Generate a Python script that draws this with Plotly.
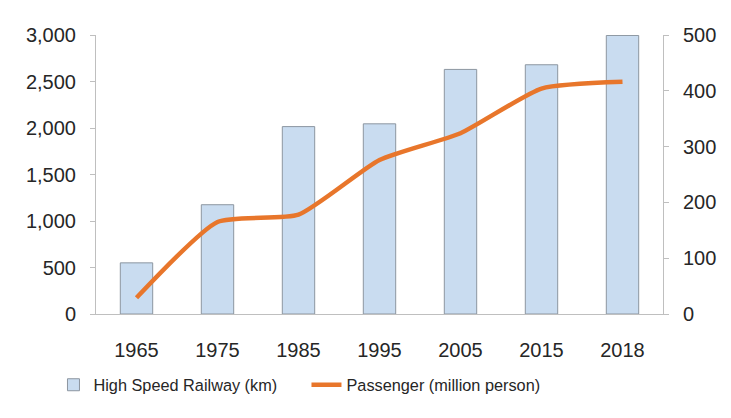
import plotly.graph_objects as go

years = ["1965", "1975", "1985", "1995", "2005", "2015", "2018"]
railway_km = [550, 1175, 2015, 2045, 2630, 2680, 2995]
passengers = [29, 165, 178, 276, 324, 404, 416]

fig = go.Figure()
fig.add_trace(go.Bar(
    x=years, y=railway_km, name="High Speed Railway (km)",
    marker=dict(color="#C9DCF0", line=dict(color="#8C96A0", width=1)),
    width=0.4, yaxis="y"))
fig.add_trace(go.Scatter(
    x=years, y=passengers, name="Passenger (million person)",
    mode="lines", line=dict(color="#E8762B", width=4.5, shape="spline", smoothing=0.55),
    yaxis="y2"))

font_color = "#262626"
fig.update_layout(
    width=731, height=418,
    margin=dict(l=96, r=68, t=35, b=104),
    paper_bgcolor="white", plot_bgcolor="white",
    font=dict(family="Liberation Sans, Arial, sans-serif", size=20, color=font_color),
    showlegend=True,
    legend=dict(orientation="h", x=-0.075, xanchor="left", y=-0.255, yanchor="middle",
                font=dict(size=16.3, color=font_color), entrywidth=208, traceorder="normal"),
    xaxis=dict(showline=True, linecolor="#BFBFBF", linewidth=1, ticks="", showgrid=False,
               tickfont=dict(size=20), ticklabelstandoff=18),
    yaxis=dict(range=[0, 3000], tickvals=[0, 500, 1000, 1500, 2000, 2500, 3000],
               tickformat=",", showline=True, linecolor="#BFBFBF", linewidth=1,
               ticks="outside", ticklen=5, tickcolor="#BFBFBF", showgrid=False,
               zeroline=False, ticklabelstandoff=10),
    yaxis2=dict(range=[0, 500], tickvals=[0, 100, 200, 300, 400, 500], overlaying="y",
                side="right", showline=True, linecolor="#BFBFBF", linewidth=1,
                ticks="outside", ticklen=5, tickcolor="#BFBFBF", showgrid=False,
                zeroline=False, ticklabelstandoff=10),
    bargap=0.6,
)

fig.write_html("out.html")
